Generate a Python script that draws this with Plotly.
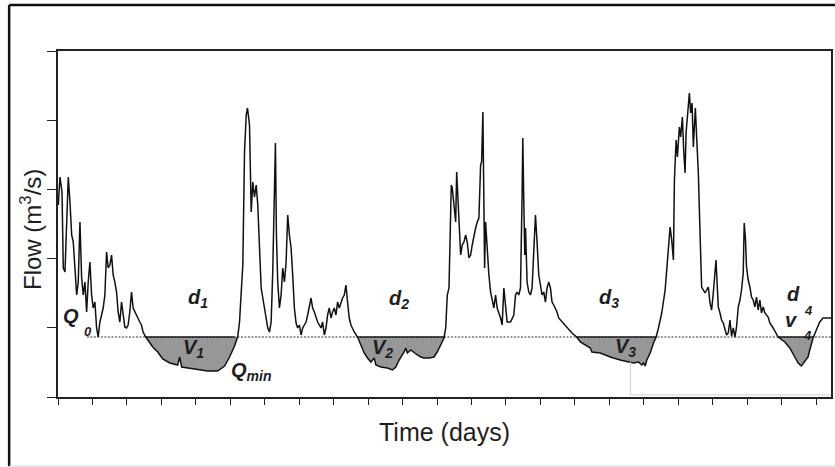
import numpy as np
import plotly.graph_objects as go

# ---- data (time in days, flow in chart units) ----
days = [0.3, 2, 4, 5.3, 7, 8.7, 10.3, 12, 13.7, 15.3, 17, 18.7, 20.3, 22, 23.7, 25.3, 27, 28.7, 30.3, 32,
        33.7, 35.3, 37, 38.7, 40.3, 42, 43.7, 45.3, 47, 48.7, 50.3, 52, 53.7, 55.3, 57, 58.7, 60.3, 62, 63.7, 65.3,
        67, 68.7, 70.3, 72, 73.7, 75.3, 77, 78.7, 80.3, 82, 83.7, 85.3, 88,
        95, 100, 105, 112, 120, 122, 124, 137, 150, 160, 167, 172, 177, 180.3,
        182, 183.7, 185.3, 187, 188.7, 190, 192, 193.7, 195.3, 197, 198.7, 200.3, 202, 203.7, 207, 210.3, 212,
        213.7, 215.3, 217, 218, 219, 220.3, 222, 223.7, 225.3, 227, 228.7, 230.3, 232, 233.7, 235.3, 237, 238.7,
        240.3, 242, 243.7, 245.3, 247, 248.7, 250.3, 252, 253.7, 255.3, 257, 260.3, 263.7, 265.3, 267, 268.7,
        270.3, 272, 273.7, 275.3, 277, 278.7, 280.3, 282, 283.7, 285.3, 287, 288.7, 290.3, 292, 293.7, 297, 300.3,
        303.7, 307, 310.3, 313.7, 317, 318.7, 323.7, 330.3, 335.3, 338.7, 342, 345.3, 347, 348.7, 350.3, 353.7,
        357, 360.3, 363.7, 367, 372, 377, 380.3, 383.7, 387,
        388.7, 390.3, 392, 393, 394.3, 395.3, 397, 398.7, 399.7, 401, 402, 403.7, 405.3, 407, 408.7, 410.3, 412,
        413.7, 415.3, 417, 418.7, 420.3, 422, 423.7, 424.7, 426, 427, 427.7, 428.7, 430.3, 432, 433.7, 435.3, 437,
        438.7, 440.3, 443.7, 445.3, 447, 448.7, 450.3, 453.7, 457, 458.7, 460.3, 462, 463.7, 465.3, 466, 467, 468,
        468.7, 470.3, 472, 473.7, 475.3, 477, 478.7, 480.3, 482, 483.7, 485.3, 487, 488.7, 490.3, 492, 493.7,
        495.3, 497, 500.3, 502, 505.3, 510.3, 515.3, 520,
        523.7, 533.7, 535.3, 543.7, 553.7, 563.7, 572, 577, 582, 585.3, 587, 588.7, 590.3, 593.7, 597, 599.7,
        602, 605.3, 608.7, 611.3, 613.7, 615.3, 617, 618, 619.7, 621, 623, 624.3, 626, 627.3, 628.7, 629.7, 631.3,
        633, 634.3, 635.7, 637, 638, 639, 640.3, 642, 643.7, 645.3, 648.7, 652, 653.7, 655.3, 657, 658.7, 659.7,
        661, 662, 663.7, 665.3, 667, 668.7, 670.3, 672, 673.7, 675.3, 677, 678.7, 680.3, 682, 683.7, 685.3, 687,
        688, 689.3, 690.3, 692, 693.7, 695.3, 697, 698.7, 700.3, 702, 703.7, 705.3, 707, 708.7, 712, 713.7, 717,
        720.3, 722,
        728.7, 733.7, 738.7, 742, 745.3, 748.7, 752, 753.7, 755.3, 757,
        760.3, 763.7, 767, 773.7, 775]

flow = [192, 220, 205, 129, 125, 169, 220, 195, 162, 155, 125, 102, 115, 175, 119, 102, 115, 85, 115, 135,
        102, 89, 95, 69, 60, 75, 82, 89, 102, 145, 129, 132, 142, 122, 115, 105, 85, 75, 95, 82,
        70, 69, 72, 85, 105, 89, 85, 82, 79, 75, 72, 65, 60,
        50, 45, 38, 34, 32, 40, 30, 28, 26, 26, 31, 40, 51, 61,
        75, 105, 132, 245, 282, 289, 272, 185, 215, 200, 212, 192, 142, 109, 89, 69, 65,
        75, 125, 202, 254, 162, 115, 89, 102, 129, 115, 135, 182, 162, 149, 122, 89, 74,
        69, 72, 62, 69, 72, 75, 82, 92, 99, 89, 85, 75, 69, 75, 62, 69,
        82, 89, 79, 85, 89, 82, 95, 89, 95, 99, 102, 112, 95, 79, 72, 65, 60,
        52, 44, 39, 35, 39, 32, 30, 29, 27, 30, 37, 42, 45, 49, 44, 47,
        44, 42, 40, 39, 39, 40, 45, 52, 59,
        69, 102, 109, 152, 212, 209, 189, 175, 225, 195, 179, 142, 152, 155, 162, 155, 139,
        142, 152, 162, 169, 175, 179, 232, 235, 285, 202, 129, 175, 142, 122, 105, 95, 89,
        102, 89, 79, 72, 109, 89, 75, 75, 82, 102, 105, 102, 109, 202, 259, 195, 142,
        169, 115, 105, 102, 109, 149, 182, 155, 122, 112, 102, 105, 95, 109, 115, 109,
        95, 92, 85, 79, 75, 69, 64, 60,
        55, 49, 45, 44, 40, 37, 35, 34, 35, 32, 34, 31, 37, 44, 54, 60,
        69, 84, 107, 137, 170, 157, 137, 217, 257, 240, 270, 260, 280, 247, 224, 264, 287,
        304, 284, 294, 250, 277, 289, 260, 224, 164, 110, 104, 110, 94, 87, 104, 124, 137,
        110, 90, 84, 77, 74, 67, 62, 64, 77, 61, 69, 60, 70, 90, 97, 107, 124,
        174, 157, 130, 117, 110, 100, 97, 90, 100, 87, 97, 84, 90, 84, 80, 74, 69,
        62, 60,
        55, 49, 40, 34, 31, 35, 40, 47, 54, 59,
        67, 75, 79, 79, 79]

threshold = 60          # Q0 level
threshold_start = 29    # day where the dotted Q0 line begins
x_max = 775
y_max = 346
y_ticks = [0, 69.2, 138.4, 207.6, 276.8, 346]
x_tick_step = 34.55
x_ticks = [i * x_tick_step for i in range(23)]

# labels: (text, day, flow, size)
labels = [
    ("Q", 13.5, 81, 20), ("0", 30, 66, 13),
    ("d<sub>1</sub>", 140, 99, 20), ("V<sub>1</sub>", 136, 49, 20), ("Q<sub>min</sub>", 193, 26, 20),
    ("d<sub>2</sub>", 342, 98, 20), ("V<sub>2</sub>", 325, 49, 20),
    ("d<sub>3</sub>", 552, 99, 20), ("V<sub>3</sub>", 569, 50, 20),
    ("d", 737, 103, 20), ("4", 752, 87, 13), ("v", 735, 77, 20), ("4", 751, 62, 13),
]

FONT = "Liberation Sans, Arial, sans-serif"
INK = "#1e1e1e"

d = np.array(days, dtype=float)
f = np.array(flow, dtype=float)
mask = d >= threshold_start
dd = d[mask]
below = np.minimum(f[mask], threshold)
top_line = np.where(f[mask] <= threshold, threshold, np.nan)

fig = go.Figure()
# base for the deficit fill
fig.add_trace(go.Scatter(x=dd, y=np.full(dd.shape, threshold), mode="lines",
                         line=dict(width=0, color="rgba(0,0,0,0)"), hoverinfo="skip"))
fig.add_trace(go.Scatter(x=dd, y=below, mode="lines", fill="tonexty",
                         fillcolor="#979797", line=dict(width=0, color="rgba(0,0,0,0)"), hoverinfo="skip"))
# dotted Q0 line
fig.add_trace(go.Scatter(x=[threshold_start, x_max], y=[threshold, threshold], mode="lines",
                         line=dict(color="#333333", width=1, dash="2px,1.5px"), hoverinfo="skip"))
# solid top of deficit areas
fig.add_trace(go.Scatter(x=dd, y=top_line, mode="lines", connectgaps=False,
                         line=dict(color="#222222", width=1.4), hoverinfo="skip"))
# hydrograph
fig.add_trace(go.Scatter(x=d, y=f, mode="lines", line=dict(color="#111111", width=1.5)))

for text, x, y, size in labels:
    fig.add_annotation(x=x, y=y, xref="x", yref="y", text=text, showarrow=False,
                       font=dict(family=FONT, size=size, color=INK, weight="bold", style="italic"),
                       xanchor="center", yanchor="middle")

fig.add_annotation(x=-0.0348, y=0.483, xref="paper", yref="paper", text="Flow (m<sup>3</sup>/s)",
                   textangle=-90, showarrow=False, font=dict(family=FONT, size=24, color=INK),
                   xanchor="center", yanchor="middle")
fig.add_annotation(x=0.5, y=-0.101, xref="paper", yref="paper", text="Time (days)",
                   showarrow=False, font=dict(family=FONT, size=25, color=INK),
                   xanchor="center", yanchor="middle")

# outer figure frame (scanned page border) and faint scan artefact
fig.add_shape(type="line", xref="paper", yref="paper", x0=-0.0632, x1=1.01, y0=1.1329, y1=1.1329,
              line=dict(color="#111111", width=2.5))
fig.add_shape(type="line", xref="paper", yref="paper", x0=-0.0632, x1=-0.0632, y0=1.1329, y1=-0.2,
              line=dict(color="#111111", width=2.5))
fig.add_shape(type="line", xref="paper", yref="paper", x0=-0.0632, x1=1.01, y0=-0.1994, y1=-0.1994,
              line=dict(color="#d8d8d8", width=1))
fig.add_shape(type="line", xref="paper", yref="paper", x0=0.7406, x1=0.7406, y0=0.101, y1=0.006,
              line=dict(color="#d0d0d0", width=1))
fig.add_shape(type="line", xref="paper", yref="paper", x0=0.7406, x1=1.0, y0=0.006, y1=0.006,
              line=dict(color="#d0d0d0", width=1))

fig.update_layout(
    width=835, height=467,
    margin=dict(l=58, r=2, t=51, b=70),
    paper_bgcolor="white", plot_bgcolor="white",
    showlegend=False,
    xaxis=dict(range=[0, x_max], tickmode="array", tickvals=x_ticks, ticks="outside", ticklen=6,
               tickwidth=1.4, tickcolor="#222", showticklabels=False, showgrid=False, zeroline=False,
               showline=True, linecolor="#222", linewidth=1.8, mirror=True),
    yaxis=dict(range=[0, y_max], tickmode="array", tickvals=y_ticks, ticks="outside", ticklen=9,
               tickwidth=1.4, tickcolor="#222", showticklabels=False, showgrid=False, zeroline=False,
               showline=True, linecolor="#222", linewidth=1.8, mirror=True),
)

fig.write_html("out.html", config={"displayModeBar": False},
               post_script="document.body.style.margin='0px';document.body.style.padding='0px';"
                           "document.documentElement.style.overflow='hidden';")
